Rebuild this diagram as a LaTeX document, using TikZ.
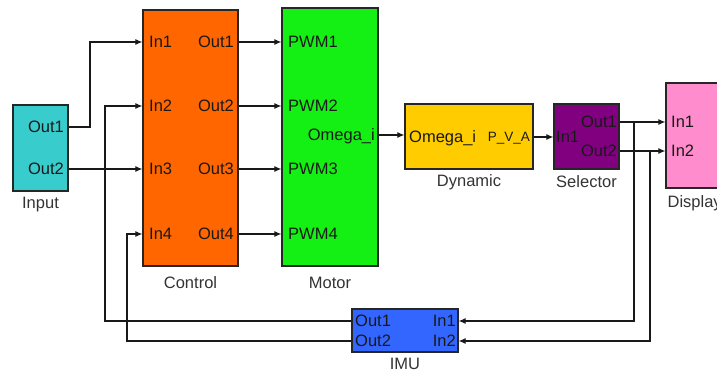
\documentclass[tikz,border=0pt]{standalone}
\usepackage{fontspec}
\setmainfont{Liberation Sans}
\usepackage{xcolor}
\usetikzlibrary{arrows.meta,positioning}
\definecolor{inpcyan}{RGB}{56,204,204}
\definecolor{ctrlorange}{RGB}{255,102,0}
\definecolor{motgreen}{RGB}{20,240,20}
\definecolor{dynyellow}{RGB}{255,204,0}
\definecolor{selpurple}{RGB}{128,0,128}
\definecolor{disppink}{RGB}{255,140,204}
\definecolor{imublue}{RGB}{51,102,255}
\tikzset{
  block/.style={draw=black!85, line width=1.2pt, inner sep=0pt},
  txt/.style={inner sep=0pt, text height=11.8pt, text depth=0pt, font=\fontsize{16.5}{19}\selectfont},
  port/.style={txt, text=black!90},
  caption/.style={txt, text=black!80},
  wire/.style={line width=1.1pt, black!90, -{Latex[length=7pt,width=6pt]}},
  line/.style={line width=1.1pt, black!90}
}

\begin{document}
\begin{tikzpicture}[x=1pt, y=-1pt]
\useasboundingbox (0,0) rectangle (717,374);

\node [block, fill=inpcyan, minimum width=55pt, minimum height=86pt] (inp) at (40.5,148) {};
\node [block, fill=ctrlorange, minimum width=95pt, minimum height=256pt] (ctrl) at (190.5,138) {};
\node [block, fill=motgreen, minimum width=96pt, minimum height=258pt] (mot) at (330,137) {};
\node [block, fill=dynyellow, minimum width=128pt, minimum height=65pt] (dyn) at (469,136.5) {};
\node [block, fill=selpurple, minimum width=65pt, minimum height=65pt] (sel) at (586.5,136.5) {};
\node [block, fill=disppink, minimum width=60pt, minimum height=105pt] (disp) at (696,135.5) {};
\node [block, fill=imublue, minimum width=106pt, minimum height=43pt] (imu) at (405,330.5) {};

\node [caption, below=5pt of inp] (inp-cap) {Input};
\node [caption, below=10pt of ctrl] (ctrl-cap) {Control};
\node [caption, below=10pt of mot] (mot-cap) {Motor};
\node [caption, below=5pt of dyn] (dyn-cap) {Dynamic};
\node [caption, below=6pt of sel] (sel-cap) {Selector};
\node [caption, anchor=north west] (disp-cap) at ([shift={(2,7)}]disp.south west) {Display};
\node [caption, below=5pt of imu] (imu-cap) {IMU};

\node [port, anchor=east] (inp-o1) at (64,127) {Out1};
\node [port, anchor=east] (inp-o2) at (64,169) {Out2};

\foreach \k/\y in {1/42, 2/106, 3/169, 4/234} {
  \node [port, anchor=west] (ctrl-i\k) at (149,\y) {In\k};
  \node [port, anchor=east] (ctrl-o\k) at (234,\y) {Out\k};
  \node [port, anchor=west] (mot-i\k) at (288,\y) {PWM\k};
  \draw [wire] (ctrl.east |- ctrl-o\k) -- (mot.west |- mot-i\k);
}
\node [port, anchor=east] (mot-o1) at (375,135) {Omega\_i};

\node [port, anchor=west] (dyn-i1) at (409,137) {Omega\_i};
\node [port, anchor=east, text height=9.7pt, font=\fontsize{13.5}{16}\selectfont] (dyn-o1) at (530,137) {P\_V\_A};

\node [port, anchor=west] (sel-i1) at (556,137) {In1};
\node [port, anchor=east] (sel-o1) at (617,122) {Out1};
\node [port, anchor=east] (sel-o2) at (617,151) {Out2};

\node [port, anchor=west] (disp-i1) at (671,122) {In1};
\node [port, anchor=west] (disp-i2) at (671,151) {In2};

\node [port, anchor=west] (imu-o1) at (355,321) {Out1};
\node [port, anchor=west] (imu-o2) at (355,341) {Out2};
\node [port, anchor=east] (imu-i1) at (456,321) {In1};
\node [port, anchor=east] (imu-i2) at (456,341) {In2};

\coordinate (bendA) at (90,127);
\coordinate (fbA) at (105,321);
\coordinate (fbB) at (127,341);
\coordinate (brA) at (634,122);
\coordinate (brB) at (650,151);

\draw [wire] (inp.east |- inp-o1) -- (bendA) |- (ctrl.west |- ctrl-i1);
\draw [wire] (inp.east |- inp-o2) -- (ctrl.west |- ctrl-i3);
\draw [wire] (mot.east |- mot-o1) -- (dyn.west |- mot-o1);
\draw [wire] (dyn.east |- dyn-o1) -- (sel.west |- sel-i1);
\draw [wire] (sel.east |- sel-o1) -- (disp.west |- disp-i1);
\draw [wire] (sel.east |- sel-o2) -- (disp.west |- disp-i2);
\draw [wire] (brA) |- (imu.east |- imu-i1);
\draw [wire] (brB) |- (imu.east |- imu-i2);
\draw [wire] (imu.west |- imu-o1) -- (fbA) |- (ctrl.west |- ctrl-i2);
\draw [wire] (imu.west |- imu-o2) -- (fbB) |- (ctrl.west |- ctrl-i4);

\fill [black!90] (fbA |- inp-o2) circle (1.8pt);
\fill [black!90] (fbB |- imu-o1) circle (1.8pt);
\fill [black!90] (brA |- sel-o2) circle (1.8pt);

\end{tikzpicture}
\end{document}
